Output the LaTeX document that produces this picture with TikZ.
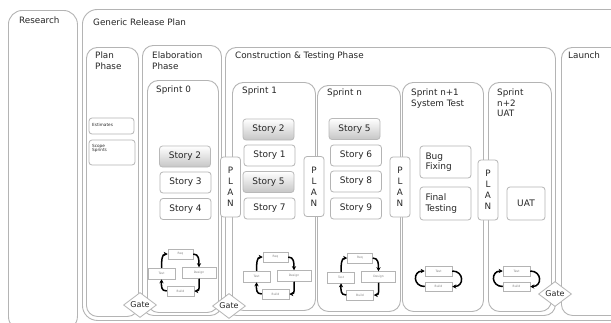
\documentclass[tikz,border=0pt]{standalone}
\usepackage{fontspec}
\setmainfont{DejaVu Sans}
\usetikzlibrary{shapes.geometric,arrows.meta}
\definecolor{lg}{HTML}{B4B4B4}
\definecolor{tx}{HTML}{262626}
\newcommand\fourcyc[3]{%
\begin{scope}[shift={(#2,#3)}]
\node[cbox,minimum width=25pt,minimum height=10pt] (#1T) at (0,0) {Req};
\node[cbox,minimum width=27pt,minimum height=11pt] (#1L) at (-19,19.5) {Test};
\node[cbox,minimum width=34pt,minimum height=11pt] (#1R) at (18.5,19) {Design};
\node[cbox,minimum width=27pt,minimum height=10pt] (#1B) at (0,37) {Build};
\end{scope}
\draw[cyc] (#1T.east) .. controls +(6,0) and +(0,-7) .. (#1R.north);
\draw[cyc] (#1R.south) .. controls +(0,7) and +(6,0) .. (#1B.east);
\draw[cyc] (#1B.west) .. controls +(-6,0) and +(0,7) .. (#1L.south);
\draw[cyc] (#1L.north) .. controls +(0,-7) and +(-6,0) .. (#1T.west);
}
\newcommand\twocyc[3]{%
\begin{scope}[shift={(#2,#3)}]
\node[cbox,minimum width=27pt,minimum height=10pt] (#1T) at (0,0) {Test};
\node[cbox,minimum width=27pt,minimum height=9pt] (#1B) at (0,15.5) {Build};
\end{scope}
\draw[cyc] (#1T.east) .. controls +(12,0) and +(12,0) .. (#1B.east);
\draw[cyc] (#1B.west) .. controls +(-12,0) and +(-12,0) .. (#1T.west);
}
\begin{document}
\begin{tikzpicture}[x=1pt,y=-1pt,
  every node/.style={inner sep=0pt, text=tx},
  box/.style={draw=lg, line width=0.9pt, fill=white, rounded corners=#1, anchor=north west},
  box/.default=11pt,
  title/.style={anchor=north west, align=left, font=\fontsize{8.8}{10.5}\selectfont},
  story/.style={draw=lg, line width=0.8pt, fill=white, rounded corners=3pt, minimum width=51pt, minimum height=21pt, font=\fontsize{9}{10.5}\selectfont},
  shstory/.style={story, draw=gray!55, top color=white, bottom color=gray!45},
  smallbox/.style={draw=lg, line width=0.8pt, fill=white, rounded corners=3pt},
  smalltxt/.style={anchor=west, align=left, font=\fontsize{4.2}{4.6}\selectfont},
  planbox/.style={draw=lg, line width=0.8pt, fill=white, rounded corners=3pt, minimum width=20pt, minimum height=60pt, align=center, font=\fontsize{8.8}{11}\selectfont},
  gate/.style={diamond, aspect=1.35, draw=lg, line width=0.8pt, fill=white, minimum width=33pt, minimum height=25pt, font=\fontsize{8}{9}\selectfont},
  cbox/.style={draw=lg, line width=0.5pt, fill=white, text=gray, font=\fontsize{3}{3}\selectfont},
  cyc/.style={-{Stealth[length=4pt,width=4pt]}, line width=1.5pt, black}
]
\useasboundingbox (0,0) rectangle (611,322);
\fill[white] (0,0) rectangle (611,322);
\clip (0,0) rectangle (611,322);

% containers
\node[box=14pt, minimum width=69pt, minimum height=320pt] (research) at (8,10) {};
\node[title] (researcht) at (19,17) {Research};
\node[box=15pt, minimum width=543pt, minimum height=311pt] (generic) at (82,9) {};
\node[title] (generict) at (93,19) {Generic Release Plan};

\node[box, minimum width=52pt, minimum height=269pt] (planph) at (86,47) {};
\node[title] (planpht) at (95,52) {Plan\\Phase};
\node[smallbox, minimum width=45pt, minimum height=16pt] (est) at (111.5,126) {};
\node[smalltxt] (estt) at (92,125) {Estimates};
\node[smallbox, minimum width=46pt, minimum height=25pt] (scope) at (112,152.5) {};
\node[smalltxt, anchor=north west] (scopet) at (92,144) {Scope\\Sprints};

\node[box, minimum width=79pt, minimum height=270pt] (elab) at (142,45) {};
\node[title] (elabt) at (152,52) {Elaboration\\Phase};
\node[box, minimum width=71pt, minimum height=232pt] (s0) at (147,80) {};
\node[title] (s0t) at (156,86) {Sprint 0};

\node[box, minimum width=330pt, minimum height=268pt] (constr) at (225,47) {};
\node[title] (constrt) at (235,52) {Construction \& Testing Phase};
\node[box, minimum width=83pt, minimum height=228pt] (s1) at (232,82) {};
\node[title] (s1t) at (242,87) {Sprint 1};
\node[box, minimum width=83pt, minimum height=226pt] (sn) at (317,85) {};
\node[title] (snt) at (327,89) {Sprint n};
\node[box, minimum width=81pt, minimum height=229pt] (sn1) at (402,82) {};
\node[title] (sn1t) at (411,89) {Sprint n+1\\System Test};
\node[box, minimum width=63pt, minimum height=229pt] (sn2) at (488,82) {};
\node[title] (sn2t) at (497,89) {Sprint\\n+2\\UAT};

\node[box, minimum width=79pt, minimum height=268pt] (launch) at (561,47) {};
\node[title] (launcht) at (568,52) {Launch};

% stories
\node[shstory] (a2) at (185,156.5) {Story 2};
\node[story] (a3) at (185.5,182.5) {Story 3};
\node[story] (a4) at (185.5,209) {Story 4};

\node[shstory] (b2) at (268.5,129.5) {Story 2};
\node[story] (b1) at (269.5,155.5) {Story 1};
\node[shstory] (b5) at (268.5,182) {Story 5};
\node[story] (b7) at (269.5,208.5) {Story 7};

\node[shstory] (c5) at (354.5,129) {Story 5};
\node[story] (c6) at (356,155.5) {Story 6};
\node[story] (c8) at (356,181.5) {Story 8};
\node[story] (c9) at (356,208.5) {Story 9};

\node[story, minimum height=32pt, text width=40pt, align=left] (bug) at (445.5,162) {Bug\\Fixing};
\node[story, minimum height=33pt, text width=40pt, align=left] (final) at (445.5,203.5) {Final\\Testing};
\node[story, minimum width=38pt, minimum height=33pt] (uat) at (526,203.5) {UAT};

% plan boxes
\node[planbox] (p1) at (230.5,187) {P\\L\\A\\N};
\node[planbox] (p2) at (314,186.5) {P\\L\\A\\N};
\node[planbox] (p3) at (400,187) {P\\L\\A\\N};
\node[planbox] (p4) at (488,190) {P\\L\\A\\N};

% cycles
\fourcyc{x}{180.5}{254}
\fourcyc{y}{275.5}{257}
\fourcyc{z}{360}{258}
\twocyc{u}{438.5}{271}
\twocyc{v}{516.5}{271}

% gates
\node[gate] (g1) at (140,305) {Gate};
\node[gate] (g2) at (229,306) {Gate};
\node[gate] (g3) at (555,294) {Gate};
\end{tikzpicture}
\end{document}
